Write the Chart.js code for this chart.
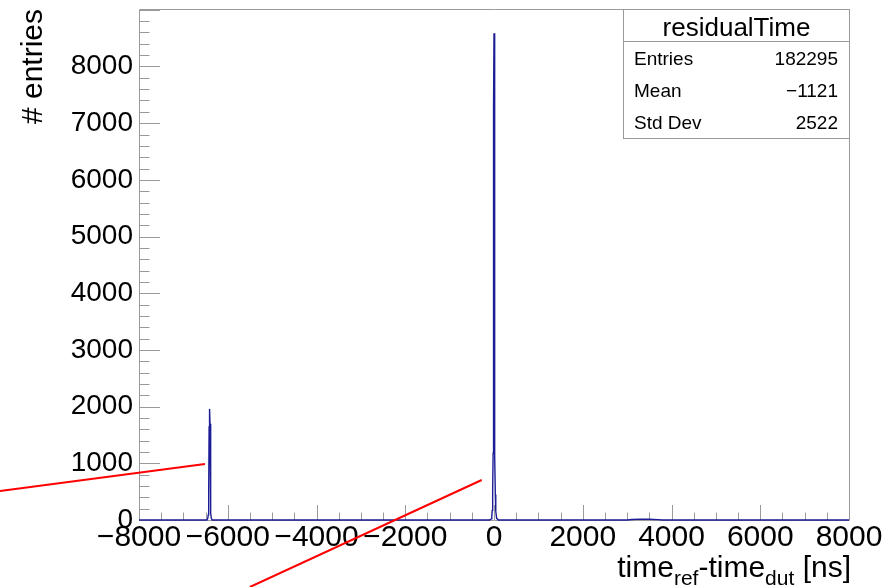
<!DOCTYPE html>
<html lang="en">
<head>
<meta charset="UTF-8">
<title>residualTime</title>
<script src="https://cdn.jsdelivr.net/npm/chart.js"></script>
<style>
    body { margin: 0; background: #ffffff; }
    canvas { display: block; }
</style>
</head>
<body>
<canvas id="histChart" width="888" height="587"></canvas>
<script>
    // Histogram contents: time difference [ns] and entries
    const binTimes = [
        -8000, -6470, -6450, -6440, -6430, -6420, -6410, -6400, -6390, -6380, -6370, -6350,
        -100, -60, -50, -40, -30, -20, -10, 0, 10, 20, 30, 40, 60, 100,
        3000, 3100, 3300, 3500, 3700, 3800, 8000
    ];
    const binEntries = [
        0, 0, 30, 90, 420, 1640, 1960, 1700, 560, 120, 30, 0,
        0, 20, 60, 170, 520, 1180, 7300, 8585, 7250, 1150, 450, 150, 30, 0,
        0, 8, 15, 12, 6, 0, 0
    ];

    // Axis ticks
    const xTickValues = [-8000, -6000, -4000, -2000, 0, 2000, 4000, 6000, 8000];
    const yTickValues = [0, 1000, 2000, 3000, 4000, 5000, 6000, 7000, 8000];
    const xMinorStep = 500;
    const yMinorStep = 200;

    // Statistics box
    const statsTitle = 'residualTime';
    const statsLabels = ['Entries', 'Mean', 'Std Dev'];
    const statsValues = ['182295', '\u22121121', '2522'];

    // Red marker lines (axis units)
    const markerStartX = [-11132, -5499];
    const markerStartY = [512, -1182];
    const markerEndX = [-6513, -277];
    const markerEndY = [988, 706];

    const FONT = 'Liberation Sans, Arial, Helvetica, sans-serif';

    function formatTick(v) {
        return String(v).replace('-', '\u2212');
    }

    // Frame, ticks, stats box, axis title and marker lines, ROOT style
    const rootPlugin = {
        id: 'rootPlugin',
        beforeDatasetsDraw(chart) {
            const ctx = chart.ctx;
            const a = chart.chartArea;
            const xs = chart.scales.x;
            const ys = chart.scales.y;
            ctx.save();
            ctx.strokeStyle = '#9a9a9a';
            ctx.lineWidth = 1;
            ctx.beginPath();
            ctx.rect(a.left + 0.5, a.top + 0.5, a.right - a.left, a.bottom - a.top);
            ctx.stroke();

            // x ticks pointing up
            ctx.beginPath();
            for (let v = xs.min; v <= xs.max; v += xMinorStep) {
                const px = Math.round(xs.getPixelForValue(v)) + 0.5;
                const len = (v % 2000 === 0) ? 15 : 7.5;
                ctx.moveTo(px, a.bottom);
                ctx.lineTo(px, a.bottom - len);
            }
            // y ticks pointing right
            for (let v = 0; v <= ys.max; v += yMinorStep) {
                const py = Math.round(ys.getPixelForValue(v)) + 0.5;
                const len = (v % 1000 === 0) ? 21 : 10.5;
                ctx.moveTo(a.left, py);
                ctx.lineTo(a.left + len, py);
            }
            ctx.stroke();
            ctx.restore();
        },
        afterDraw(chart) {
            const ctx = chart.ctx;
            const a = chart.chartArea;
            const xs = chart.scales.x;
            const ys = chart.scales.y;
            ctx.save();

            // stats box
            const bx = 623.5, by = 9.5, bw = a.right - 623, bh = 129;
            ctx.fillStyle = '#ffffff';
            ctx.fillRect(bx, by, bw, bh);
            ctx.strokeStyle = '#9a9a9a';
            ctx.lineWidth = 1;
            ctx.strokeRect(bx, by, bw, bh);
            ctx.beginPath();
            ctx.moveTo(bx, 41.5);
            ctx.lineTo(bx + bw, 41.5);
            ctx.stroke();

            ctx.fillStyle = '#000000';
            ctx.textBaseline = 'alphabetic';
            ctx.font = '26px ' + FONT;
            ctx.textAlign = 'center';
            ctx.fillText(statsTitle, bx + bw / 2, 36);
            ctx.font = '19px ' + FONT;
            statsLabels.forEach((label, i) => {
                const y = 65 + i * 32;
                ctx.textAlign = 'left';
                ctx.fillText(label, 634, y);
                ctx.textAlign = 'right';
                ctx.fillText(statsValues[i], 838, y);
            });

            // x axis title with subscripts
            const parts = [
                ['time', 30, 0], ['ref', 21, 8], ['-time', 30, 0], ['dut', 21, 8], [' [ns]', 30, 0]
            ];
            let total = 0;
            parts.forEach(p => {
                ctx.font = p[1] + 'px ' + FONT;
                total += ctx.measureText(p[0]).width;
            });
            let tx = a.right - total + 2;
            ctx.textAlign = 'left';
            parts.forEach(p => {
                ctx.font = p[1] + 'px ' + FONT;
                ctx.fillText(p[0], tx, 577 + p[2]);
                tx += ctx.measureText(p[0]).width;
            });

            // red marker lines
            ctx.strokeStyle = '#ff0000';
            ctx.lineWidth = 2;
            ctx.beginPath();
            markerStartX.forEach((x0, i) => {
                ctx.moveTo(xs.getPixelForValue(x0), ys.getPixelForValue(markerStartY[i]));
                ctx.lineTo(xs.getPixelForValue(markerEndX[i]), ys.getPixelForValue(markerEndY[i]));
            });
            ctx.stroke();
            ctx.restore();
        }
    };

    const ctx = document.getElementById('histChart').getContext('2d');
    new Chart(ctx, {
        type: 'line',
        data: {
            datasets: [{
                data: binTimes.map((t, i) => ({ x: t, y: binEntries[i] })),
                borderColor: '#1c1c96',
                borderWidth: 1.4,
                pointRadius: 0,
                tension: 0,
                fill: false,
                clip: false
            }]
        },
        options: {
            responsive: false,
            animation: false,
            layout: { padding: { top: 9, right: 39, left: 0, bottom: 0 } },
            plugins: {
                legend: { display: false },
                tooltip: { enabled: false }
            },
            scales: {
                x: {
                    type: 'linear',
                    min: -8000,
                    max: 8000,
                    grid: { display: false, drawTicks: false },
                    border: { display: false },
                    afterBuildTicks: s => { s.ticks = xTickValues.map(v => ({ value: v })); },
                    afterFit: s => { s.height = 67; s.paddingLeft = 0; s.paddingRight = 0; },
                    ticks: {
                        autoSkip: false,
                        maxRotation: 0,
                        padding: 0,
                        color: '#000000',
                        font: { family: FONT, size: 30 },
                        callback: v => formatTick(v)
                    }
                },
                y: {
                    type: 'linear',
                    min: 0,
                    max: 9014,
                    grid: { display: false, drawTicks: false },
                    border: { display: false },
                    afterBuildTicks: s => { s.ticks = yTickValues.map(v => ({ value: v })); },
                    afterFit: s => { s.width = 139; s.paddingTop = 0; s.paddingBottom = 0; },
                    ticks: {
                        autoSkip: false,
                        padding: 6,
                        color: '#000000',
                        font: { family: FONT, size: 28 },
                        callback: v => formatTick(v)
                    },
                    title: {
                        display: true,
                        text: '# entries',
                        align: 'end',
                        color: '#000000',
                        font: { family: FONT, size: 30 },
                        padding: { top: 16, bottom: 0 }
                    }
                }
            }
        },
        plugins: [rootPlugin]
    });
</script>
</body>
</html>
